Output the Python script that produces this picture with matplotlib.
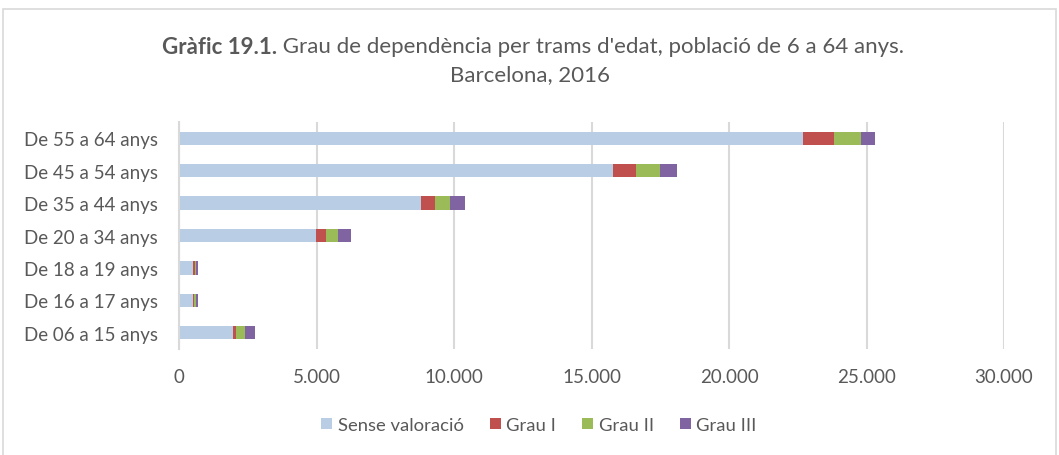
import numpy as np
import matplotlib
matplotlib.use('Agg')
import matplotlib.pyplot as plt
from matplotlib.patches import Rectangle

groups = ['De 06 a 15 anys', 'De 16 a 17 anys', 'De 18 a 19 anys', 'De 20 a 34 anys',
          'De 35 a 44 anys', 'De 45 a 54 anys', 'De 55 a 64 anys']
sense = [1950, 510, 520, 4980, 8790, 15770, 22700]
grau1 = [110, 25, 50, 350, 520, 850, 1130]
grau2 = [340, 70, 35, 440, 545, 880, 960]
grau3 = [365, 85, 85, 470, 555, 600, 530]
series = [('Sense valoració', sense, '#B9CDE5'), ('Grau I', grau1, '#C0504D'),
          ('Grau II', grau2, '#9BBB59'), ('Grau III', grau3, '#8064A2')]
xticks = [0, 5000, 10000, 15000, 20000, 25000, 30000]

plt.rcParams['font.family'] = ['Lato', 'DejaVu Sans']
txt = '#595959'

fig = plt.figure(figsize=(10.59, 4.56), dpi=100)
fig.patches.append(Rectangle((3 / 1059, -0.01), 1053 / 1059, 1 - 10 / 456 + 0.01,
                             transform=fig.transFigure, fill=False,
                             edgecolor='#d9d9d9', lw=1.2))
ax = fig.add_axes([179 / 1059, 1 - 350 / 456, 825 / 1059, 227 / 456])

y = np.arange(len(groups))
left = np.zeros(len(groups))
for name, vals, col in series:
    ax.barh(y, vals, left=left, height=0.41, color=col, label=name, zorder=2)
    left += np.array(vals)

ax.set_xlim(0, 30000)
ax.set_ylim(-0.5, len(groups) - 0.5)
ax.set_yticks(y)
ax.set_yticklabels(groups, fontsize=13.5, color=txt)
ax.set_xticks(xticks)
ax.set_xticklabels([f'{v:,}'.replace(',', '.') for v in xticks], fontsize=13.5, color=txt)
ax.tick_params(axis='y', length=0, pad=15)
ax.tick_params(axis='x', length=0, pad=14)
ax.grid(axis='x', color='#d9d9d9', lw=1.5, zorder=0)
for s in ['top', 'right', 'bottom']:
    ax.spines[s].set_visible(False)
ax.spines['left'].set_color('#d9d9d9')
ax.spines['left'].set_linewidth(1.5)

# title: bold lead-in followed by regular text, centred as one line
fig.canvas.draw()
r = fig.canvas.get_renderer()
t1 = fig.text(0, 1 - 47 / 456, 'Gràfic 19.1.', fontsize=16, weight='bold', color=txt, va='center')
t2 = fig.text(0, 1 - 47 / 456, ' Grau de dependència per trams d\'edat, població de 6 a 64 anys.',
              fontsize=16, color=txt, va='center')
w1 = t1.get_window_extent(r).width / fig.bbox.width
w2 = t2.get_window_extent(r).width / fig.bbox.width
x0 = 533 / 1059 - (w1 + w2) / 2
t1.set_x(x0)
t2.set_x(x0 + w1)
fig.text(530 / 1059, 1 - 75 / 456, 'Barcelona, 2016', fontsize=16, color=txt,
         ha='center', va='center')

fig.legend(loc='center', bbox_to_anchor=(539 / 1059, 1 - 426 / 456), ncol=4, frameon=False,
           fontsize=13.3, handlelength=0.6, handleheight=0.6, handletextpad=0.3,
           columnspacing=1.4, labelcolor=txt)

fig.savefig('out.png', dpi=100)
